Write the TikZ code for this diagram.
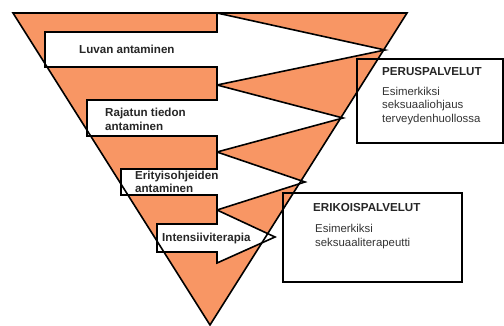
\documentclass[tikz,border=0pt]{standalone}
\usepackage{fontspec}
\setmainfont{Liberation Sans}
\definecolor{salmon}{RGB}{248,150,100}
\begin{document}
\begin{tikzpicture}[x=1pt,y=-1pt,
  outline/.style={draw=black,line width=1.6pt,line join=miter},
  arrowshape/.style={outline,fill=white},
  lbl/.style={anchor=base west,inner sep=0pt,font=\fontsize{11.6}{13.5}\selectfont\bfseries,text=black!85},
  txt/.style={anchor=base west,inner sep=0pt,font=\fontsize{11.4}{13.5}\selectfont,text=black!80},
  infobox/.style={outline}]
\useasboundingbox (0,0) rectangle (504,326);
% triangle fill
\fill[salmon] (13,13) -- (407,13) -- (210,325) -- cycle;
% block arrows
\draw[arrowshape] (45,32) -- (217,32) -- (217,13) -- (385,50) -- (217,85) -- (217,67) -- (45,67) -- cycle;
\draw[arrowshape] (87,100) -- (217,100) -- (217,85) -- (343,118) -- (217,152) -- (217,136) -- (87,136) -- cycle;
\draw[arrowshape] (121,169) -- (217,169) -- (217,152) -- (305,182) -- (217,210) -- (217,195) -- (121,195) -- cycle;
\draw[arrowshape] (157,224) -- (217,224) -- (217,210) -- (275,237) -- (217,263) -- (217,252) -- (157,252) -- cycle;
% triangle outline
\draw[outline] (13,13) -- (407,13) -- (210,325) -- cycle;
% arrow labels
\node[lbl] (l1) at (79,54) {Luvan antaminen};
\node[lbl] (l2a) at (105,117) {Rajatun tiedon};
\node[lbl] (l2b) at (105,130.5) {antaminen};
\node[lbl] (l3a) at (135,180) {Erityisohjeiden};
\node[lbl] (l3b) at (135,193) {antaminen};
\node[lbl] (l4) at (162,242) {Intensiiviterapia};
% info boxes
\draw[infobox] (357,59) rectangle (503,143);
\node[lbl] (p1) at (382,76) {PERUSPALVELUT};
\node[txt] (p2) at (382,95.5) {Esimerkiksi};
\node[txt] (p3) at (382,109) {seksuaaliohjaus};
\node[txt] (p4) at (382,122.5) {terveydenhuollossa};
\draw[infobox] (283,193) rectangle (462,282);
\node[lbl] (e1) at (313,212) {ERIKOISPALVELUT};
\node[txt] (e2) at (315,233) {Esimerkiksi};
\node[txt] (e3) at (315,246.5) {seksuaaliterapeutti};
\end{tikzpicture}
\end{document}
